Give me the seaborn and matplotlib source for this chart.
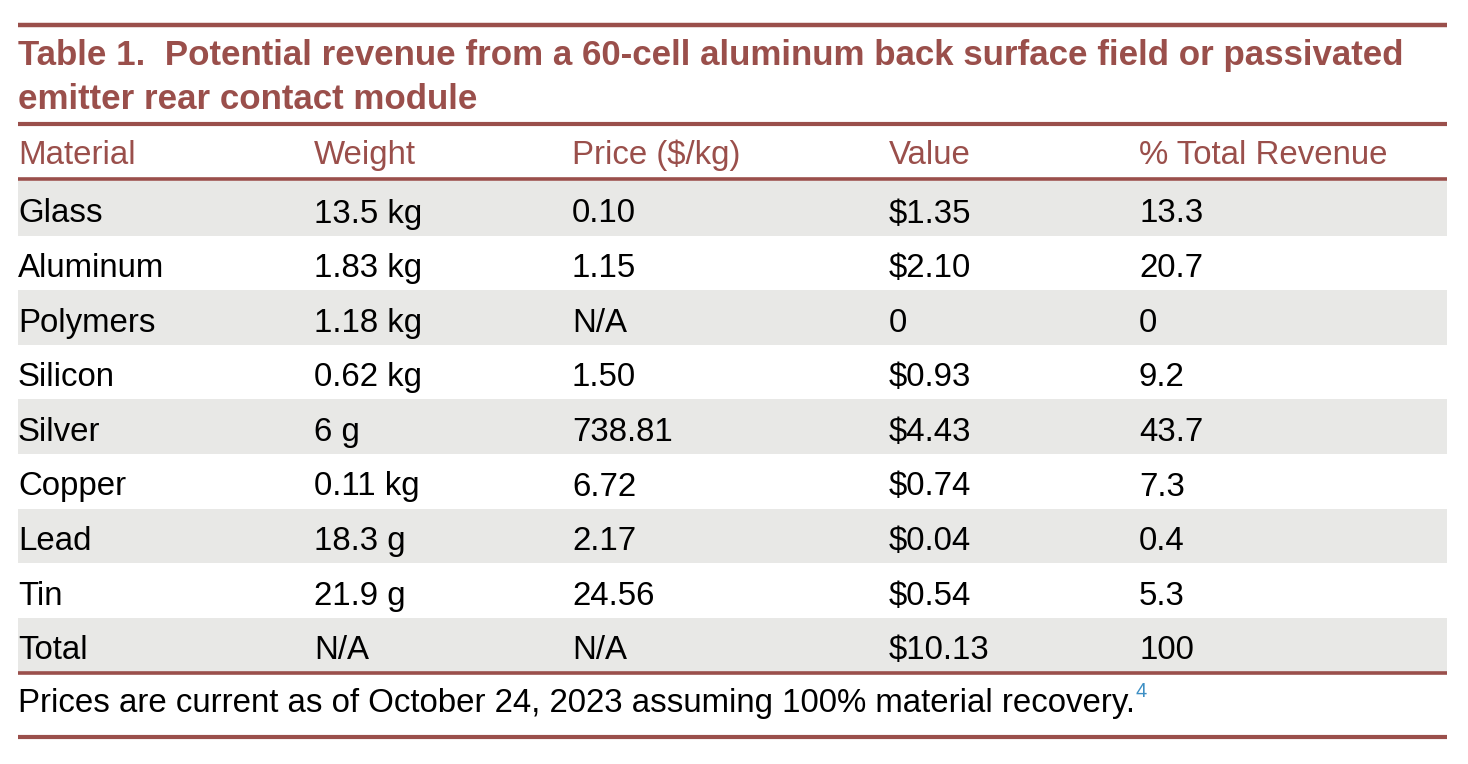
import matplotlib
matplotlib.use("Agg")
import matplotlib.pyplot as plt
import seaborn as sns

# --- table content ---
title_lines = [
    "Table 1.  Potential revenue from a 60-cell aluminum back surface field or passivated",
    "emitter rear contact module",
]
columns = ["Material", "Weight", "Price ($/kg)", "Value", "% Total Revenue"]
materials = ["Glass", "Aluminum", "Polymers", "Silicon", "Silver", "Copper", "Lead", "Tin", "Total"]
weights = ["13.5 kg", "1.83 kg", "1.18 kg", "0.62 kg", "6 g", "0.11 kg", "18.3 g", "21.9 g", "N/A"]
prices = ["0.10", "1.15", "N/A", "1.50", "738.81", "6.72", "2.17", "24.56", "N/A"]
values = ["$1.35", "$2.10", "0", "$0.93", "$4.43", "$0.74", "$0.04", "$0.54", "$10.13"]
pct_revenue = ["13.3", "20.7", "0", "9.2", "43.7", "7.3", "0.4", "5.3", "100"]
footnote = "Prices are current as of October 24, 2023 assuming 100% material recovery."
footnote_ref = "4"

# --- style ---
RED = "#9a4f4b"
GRAY = "#e8e8e6"
BLUE = "#3d8fc4"

sns.set_theme(style="white")
plt.rcParams["font.family"] = ["Liberation Sans", "DejaVu Sans"]

W, H = 1468, 764
fig = plt.figure(figsize=(W / 100, H / 100), dpi=100)
ax = fig.add_axes([0, 0, 1, 1])
ax.set_xlim(0, W)
ax.set_ylim(H, 0)
ax.axis("off")

left, right = 18, 1447
col_x = [18, 314, 572, 889, 1139]
body_top = 181
row_h = 54.6
fs = 23.8

# rules
for y, lw in [(25, 3.2), (124, 3.0), (179, 2.6), (673, 2.6), (737, 3.0)]:
    ax.plot([left, right], [y, y], color=RED, lw=lw, solid_capstyle="butt")

# title
for i, line in enumerate(title_lines):
    ax.text(left, 65 + i * 44, line, color=RED, fontsize=25.1, fontweight="bold",
            va="baseline", ha="left")

# header
for x, name in zip(col_x, columns):
    ax.text(x, 164, name, color=RED, fontsize=fs, va="baseline", ha="left")

# body rows with alternate shading
rows = list(zip(materials, weights, prices, values, pct_revenue))
for i, row in enumerate(rows):
    y0 = body_top + i * row_h
    if i % 2 == 0:
        ax.fill_between([left, right], y0, y0 + row_h, color=GRAY, lw=0)
    for x, cell in zip(col_x, row):
        ax.text(x, y0 + 41.5, cell, color="black", fontsize=fs,
                va="baseline", ha="left")

# footnote
t = ax.text(left, 712, footnote, color="black", fontsize=fs, va="baseline", ha="left")
fig.canvas.draw()
bb = t.get_window_extent()
ax.text(bb.x1 + 1, 697, footnote_ref, color=BLUE, fontsize=14.5, va="baseline", ha="left")

fig.savefig("out.png", dpi=100)
